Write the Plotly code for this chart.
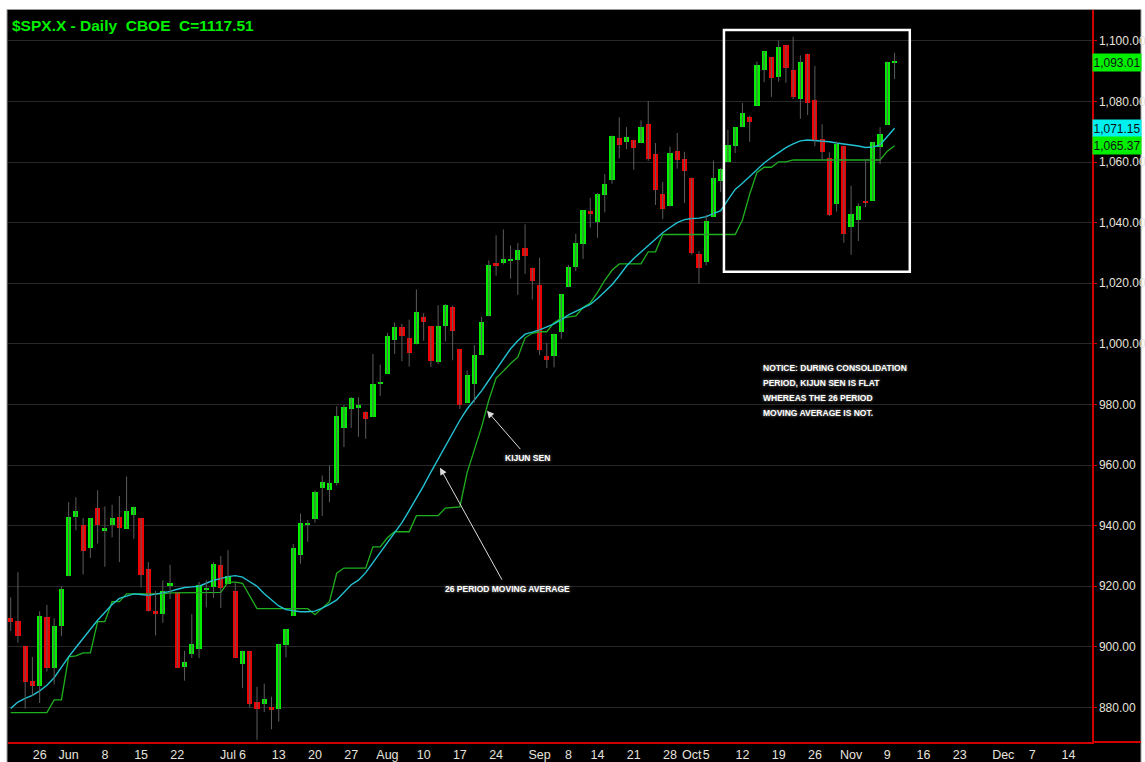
import plotly.graph_objects as go

# ---------------- data ----------------
dates = ["May19","May20","May21","May22","May26","May27","May28","May29",
         "Jun1","Jun2","Jun3","Jun4","Jun5","Jun8","Jun9","Jun10","Jun11","Jun12",
         "Jun15","Jun16","Jun17","Jun18","Jun19","Jun22","Jun23","Jun24","Jun25","Jun26",
         "Jun29","Jun30","Jul1","Jul2","Jul6","Jul7","Jul8","Jul9","Jul10",
         "Jul13","Jul14","Jul15","Jul16","Jul17","Jul20","Jul21","Jul22","Jul23","Jul24",
         "Jul27","Jul28","Jul29","Jul30","Jul31","Aug3","Aug4","Aug5","Aug6","Aug7",
         "Aug10","Aug11","Aug12","Aug13","Aug14","Aug17","Aug18","Aug19","Aug20","Aug21",
         "Aug24","Aug25","Aug26","Aug27","Aug28","Aug31","Sep1","Sep2","Sep3","Sep4",
         "Sep8","Sep9","Sep10","Sep11","Sep14","Sep15","Sep16","Sep17","Sep18",
         "Sep21","Sep22","Sep23","Sep24","Sep25","Sep28","Sep29","Sep30","Oct1","Oct2",
         "Oct5","Oct6","Oct7","Oct8","Oct9","Oct12","Oct13","Oct14","Oct15","Oct16",
         "Oct19","Oct20","Oct21","Oct22","Oct23","Oct26","Oct27","Oct28","Oct29","Oct30",
         "Nov2","Nov3","Nov4","Nov5","Nov6","Nov9","Nov10"]

opens = [909.67,908.62,900.42,888.68,887.00,909.95,892.96,907.02,
         923.26,942.87,940.30,932.49,945.67,938.12,940.35,942.73,939.04,943.44,
         942.45,925.60,911.89,910.86,919.96,918.13,893.46,897.50,899.45,918.84,
         919.86,927.15,920.82,918.30,894.27,898.60,881.90,881.28,880.03,
         879.57,900.77,910.15,930.17,940.20,942.07,952.50,951.90,954.07,972.16,
         978.63,979.00,977.66,976.01,986.80,990.22,1001.41,1005.41,1002.00,999.83,
         1008.89,1005.77,994.00,1005.86,1012.23,998.18,980.62,986.88,996.41,1009.06,
         1026.59,1026.63,1027.35,1027.81,1031.62,1025.21,1019.52,996.07,996.12,1003.84,
         1018.67,1025.36,1032.99,1043.92,1040.15,1049.03,1053.99,1067.87,1066.60,
         1067.14,1066.35,1072.69,1062.56,1049.48,1045.38,1063.69,1061.02,1054.91,1029.71,
         1026.87,1042.02,1053.65,1060.03,1065.28,1071.63,1074.96,1078.68,1090.36,1094.67,
         1088.22,1098.64,1090.36,1080.96,1095.62,1080.36,1067.54,1061.51,1046.10,1065.41,
         1038.70,1040.92,1047.30,1047.30,1064.95,1072.31,1092.77]

highs = [916.39,924.60,900.42,896.65,911.76,913.84,909.45,920.02,
         947.77,949.38,942.51,942.47,951.69,946.33,946.92,949.77,956.23,946.30,
         942.45,928.00,918.44,921.93,927.09,918.13,898.69,910.85,921.42,922.00,
         927.99,930.01,931.92,921.24,898.72,898.60,886.80,887.86,883.57,
         901.05,905.84,933.95,943.96,941.89,951.62,956.53,959.83,979.42,979.79,
         982.49,982.35,977.76,996.68,993.18,1003.61,1007.12,1006.64,1008.00,1018.00,
         1010.12,1005.77,1012.78,1013.14,1012.60,998.18,991.20,999.61,1008.92,1027.59,
         1035.82,1037.75,1032.47,1033.33,1039.47,1025.21,1028.45,1000.34,1003.43,1016.48,
         1026.07,1036.34,1044.14,1048.18,1049.74,1056.04,1068.76,1074.77,1071.52,
         1067.28,1073.81,1080.15,1066.29,1053.47,1065.13,1069.62,1063.40,1054.91,1030.60,
         1042.58,1060.55,1058.02,1070.67,1071.51,1079.46,1075.30,1093.17,1096.56,1094.67,
         1100.17,1098.64,1101.36,1095.21,1095.83,1091.75,1072.48,1063.26,1066.83,1065.41,
         1052.18,1046.36,1061.00,1066.65,1071.48,1093.19,1096.09]

lows = [905.22,901.37,879.61,883.75,881.46,891.87,887.60,903.56,
        923.26,938.46,923.85,929.32,934.13,926.44,936.15,927.97,939.04,935.66,
        919.65,911.60,903.78,907.94,915.80,893.04,888.86,896.31,896.27,913.03,
        916.18,912.86,920.82,896.42,886.36,879.93,869.32,878.45,872.81,
        875.32,896.50,910.15,927.45,934.65,940.99,943.22,947.75,953.27,965.95,
        972.29,969.35,968.65,976.01,982.85,990.22,996.68,994.31,992.49,999.83,
        1000.99,992.40,993.36,1000.82,994.60,978.51,980.62,980.62,996.39,1009.06,
        1022.48,1026.21,1021.57,1016.20,1023.13,1014.62,996.28,991.97,992.25,1001.65,
        1018.67,1023.97,1028.04,1038.40,1035.00,1043.42,1052.87,1061.20,1064.27,
        1057.46,1066.35,1060.39,1045.85,1041.17,1045.38,1057.83,1046.47,1029.45,1019.95,
        1025.92,1042.02,1050.10,1060.03,1063.00,1071.63,1066.71,1078.68,1086.41,1081.53,
        1086.48,1086.16,1080.77,1074.31,1075.49,1065.23,1060.62,1042.19,1043.69,1033.38,
        1029.38,1033.94,1045.15,1047.30,1059.32,1072.31,1087.40]

closes = [908.13,903.47,888.33,887.00,910.33,893.06,906.83,919.14,
          942.87,944.74,931.76,942.46,940.09,939.14,942.43,939.15,944.89,946.21,
          923.72,911.97,910.71,918.37,921.23,893.04,895.10,900.94,920.26,918.90,
          927.23,919.32,923.33,896.42,898.72,881.03,879.56,882.68,879.13,
          901.05,905.84,932.68,940.74,940.50,951.13,954.58,954.07,976.29,979.26,
          982.18,979.62,975.15,986.75,987.48,1002.63,1005.65,1002.72,997.08,1010.48,
          1007.10,994.35,1005.81,1012.73,1004.09,979.73,989.67,996.46,1007.37,1026.13,
          1025.57,1028.00,1028.12,1030.98,1028.93,1020.62,998.04,994.75,1003.24,1016.40,
          1025.39,1033.37,1044.14,1042.73,1049.34,1052.63,1068.76,1065.49,1068.30,
          1064.66,1071.66,1060.87,1050.78,1044.38,1062.98,1060.61,1057.08,1029.85,1025.21,
          1040.46,1054.72,1057.58,1065.48,1071.49,1076.19,1073.19,1092.02,1096.56,1087.68,
          1097.91,1091.06,1081.40,1092.91,1079.60,1066.95,1063.41,1042.63,1066.11,1036.19,
          1042.88,1045.41,1046.50,1066.63,1069.30,1093.08,1093.01]

ma26 = [879.7,881.8,883.0,884.0,885.5,887.3,889.8,893.3,896.7,899.8,
        903.0,905.8,908.8,911.5,914.0,916.0,916.8,917.5,917.3,917.0,
        917.4,917.8,918.3,919.0,919.6,919.8,920.0,921.0,922.0,922.5,
        923.2,923.5,923.0,921.5,920.0,917.5,915.5,913.5,912.3,911.9,
        911.6,911.6,911.8,912.8,914.0,915.5,918.0,920.5,922.0,924.5,
        927.8,931.0,934.3,937.5,941.0,945.0,949.0,953.2,957.7,962.0,
        966.5,970.5,974.8,978.5,981.5,984.5,988.0,991.5,995.2,998.4,
        1001.0,1003.2,1003.9,1004.6,1005.6,1006.6,1008.0,1009.6,1010.7,1011.9,
        1013.0,1015.0,1017.2,1019.5,1022.5,1025.7,1028.2,1030.4,1032.6,1034.8,
        1036.7,1038.4,1040.0,1041.0,1041.4,1041.5,1042.0,1043.0,1044.0,1047.5,
        1051.0,1053.0,1055.3,1057.5,1059.7,1061.5,1063.2,1064.8,1066.0,1067.0,
        1067.3,1067.1,1067.0,1066.7,1066.3,1066.0,1065.8,1065.3,1064.8,1065.0,
        1065.7,1068.5,1071.15]

kijun = [878.3,878.3,878.3,878.3,878.3,878.3,882.5,882.5,896.7,897.0,
         898.0,898.0,908.3,908.3,914.9,914.9,917.5,917.5,917.5,917.5,
         917.5,917.5,917.8,917.8,917.8,917.8,917.8,917.8,918.0,918.0,
         921.4,921.4,921.0,917.0,912.6,912.6,912.6,912.6,912.6,912.6,
         912.6,912.6,910.6,912.6,914.9,924.3,926.0,926.0,926.0,926.0,
         933.0,933.0,936.0,938.0,938.0,938.0,943.3,943.3,943.3,943.3,
         945.8,946.0,946.2,957.5,965.0,972.6,981.5,988.7,991.0,993.5,
         995.6,1002.0,1003.5,1004.0,1004.0,1007.0,1008.5,1008.8,1009.2,1012.0,
         1013.5,1017.0,1021.0,1024.3,1026.4,1026.4,1026.4,1026.4,1030.4,1030.4,
         1036.1,1036.1,1036.1,1036.1,1036.1,1036.1,1036.1,1036.1,1036.1,1036.1,
         1036.1,1040.9,1049.4,1056.6,1058.3,1058.3,1060.1,1060.1,1060.7,1060.7,
         1060.7,1060.7,1060.7,1060.7,1060.7,1060.7,1060.7,1060.7,1060.7,1060.7,
         1060.7,1063.6,1065.37]

# date-axis labels (trading-day index positions, incl. projected future days)
label_pos  = [4, 8, 13, 18, 23, 30, 32, 37, 42, 47, 52, 57, 62, 67, 73, 77,
              81, 86, 91, 94, 96, 101, 106, 111, 116, 121, 126, 131, 137, 141, 146]
label_text = ["26", "Jun", "8", "15", "22", "Jul", "6", "13", "20", "27", "Aug", "10",
              "17", "24", "Sep", "8", "14", "21", "28", "Oct", "5", "12", "19", "26",
              "Nov", "9", "16", "23", "Dec", "7", "14"]
week_pos  = [4, 8, 13, 18, 23, 28, 32, 37, 42, 47, 52, 57, 62, 67, 72, 77, 81, 86,
             91, 96, 101, 106, 111, 116, 121, 126, 131, 136, 141, 146]
month_pos = [8, 30, 52, 73, 94, 116, 137]

notice_lines = ["NOTICE: DURING CONSOLIDATION", "PERIOD, KIJUN SEN IS FLAT",
                "WHEREAS THE 26 PERIOD", "MOVING AVERAGE IS NOT."]

# ---------------- build figure ----------------
idx = list(range(len(dates)))
wick_x, wick_y = [], []
for i in idx:
    wick_x += [i, i, None]
    wick_y += [lows[i], highs[i], None]
body_base = [min(o, c) for o, c in zip(opens, closes)]
body_len = [max(abs(c - o), 0.7) for o, c in zip(opens, closes)]
body_col = ["#00f000" if c >= o else "#f00000" for o, c in zip(opens, closes)]

FONT = "Liberation Sans, Arial, Helvetica, sans-serif"
RED = "#d00000"

fig = go.Figure()
fig.add_trace(go.Scatter(x=idx, y=kijun, mode="lines", line=dict(color="#1fb01f", width=1.3),
                         hoverinfo="skip", name="Kijun Sen"))
fig.add_trace(go.Scatter(x=idx, y=ma26, mode="lines", line=dict(color="#22c2d2", width=1.4),
                         hoverinfo="skip", name="26 MA"))
fig.add_trace(go.Scatter(x=wick_x, y=wick_y, mode="lines", line=dict(color="#5c5c5c", width=1),
                         hoverinfo="skip", name="range"))
fig.add_trace(go.Bar(x=idx, y=body_len, base=body_base, width=0.72,
                     marker=dict(color=body_col, line=dict(width=0)), name="body"))

X0, X1 = -0.37, 149.25
Y0, Y1 = 868.6, 1110.2

fig.update_layout(
    width=1145, height=762, autosize=False,
    margin=dict(l=8, r=53, t=10, b=20, pad=0),
    paper_bgcolor="white", plot_bgcolor="black",
    showlegend=False, bargap=0, hovermode=False,
    xaxis=dict(range=[X0, X1], tickmode="array", tickvals=label_pos, ticktext=label_text,
               tickangle=0, ticks="", automargin=False,
               showgrid=False, zeroline=False, showline=True, linecolor=RED, linewidth=2,
               tickfont=dict(family=FONT, size=12.5, color="#e6e2dc")),
    xaxis2=dict(range=[X0, X1], overlaying="x", anchor="y", side="bottom", automargin=False,
                tickmode="array", tickvals=week_pos, ticks="outside", ticklen=5,
                tickcolor=RED, tickwidth=1, showticklabels=False,
                showgrid=True, gridcolor="#282828", gridwidth=1, zeroline=False, showline=False),
    xaxis3=dict(range=[X0, X1], overlaying="x", anchor="y", side="bottom", automargin=False,
                tickmode="array", tickvals=month_pos, ticks="outside", ticklen=10,
                tickcolor=RED, tickwidth=1.5, showticklabels=False,
                showgrid=False, zeroline=False, showline=False),
    yaxis=dict(range=[Y0, Y1], side="right", tick0=0, dtick=20, tickformat=",.2f",
               automargin=False,
               ticks="outside", ticklen=3, tickcolor=RED, showgrid=True,
               gridcolor="#282828", zeroline=False, showline=True, linecolor=RED,
               linewidth=1.5, tickfont=dict(family=FONT, size=12, color="#e6e2dc")),
)

# black chart panel with thin grey frame (extends under the axis labels)
fig.add_shape(type="rect", xref="paper", yref="paper", x0=-0.0009, x1=1.0452, y0=-0.05, y1=1.0007,
              fillcolor="black", line=dict(color="#9a9a9a", width=1), layer="below")
# bottom red axis line continues under the price scale
fig.add_shape(type="line", xref="paper", yref="paper", x0=1.0, x1=1.0452, y0=0, y1=0,
              line=dict(color=RED, width=2))
# white consolidation box
fig.add_shape(type="rect", xref="x", yref="y", x0=98.45, x1=124.1, y0=1023.8, y1=1103.6,
              line=dict(color="white", width=2.5), fillcolor="rgba(0,0,0,0)")

# title
fig.add_annotation(xref="paper", yref="paper", x=0.0018, y=0.9795, xanchor="left", yanchor="middle",
                   text="$SPX.X - Daily\u00a0\u00a0CBOE\u00a0\u00a0C=1117.51", showarrow=False,
                   font=dict(family=FONT, size=15.5, color="#00f000", weight="bold"))

glow = "0px 0px 3px rgba(255,255,255,0.6)"
note_font = dict(family=FONT, size=8.5, color="white", weight="bold", shadow=glow)
# arrows + labels
fig.add_annotation(x=65.74, y=977.9, xref="x", yref="y", text="KIJUN SEN", showarrow=True,
                   ax=41, ay=47, arrowhead=2, arrowsize=1.4, arrowwidth=1, arrowcolor="#dddddd",
                   standoff=0, startstandoff=3, font=note_font)
fig.add_annotation(x=59.26, y=959.1, xref="x", yref="y", text="26 PERIOD MOVING AVERAGE", showarrow=True,
                   ax=67, ay=121, arrowhead=2, arrowsize=1.4, arrowwidth=1, arrowcolor="#dddddd",
                   standoff=0, startstandoff=3, font=note_font)
# consolidation note, one annotation per line (15 px line pitch as in the original)
for k, line in enumerate(notice_lines):
    fig.add_annotation(x=103.56, y=992.1 - k * 4.95, xref="x", yref="y", xanchor="left",
                       yanchor="middle", align="left", text=line, showarrow=False, font=note_font)

# last-value boxes on the price scale
for val, col in [(closes[-1], "#00f000"), (ma26[-1], "#00f0f0"), (kijun[-1], "#00f000")]:
    fig.add_annotation(xref="paper", yref="y", x=1.0, y=val, xanchor="left", yanchor="middle",
                       text=f"{val:,.2f}", showarrow=False, bgcolor=col, width=48, height=17,
                       borderpad=0, align="center",
                       font=dict(family=FONT, size=12, color="#111111"))

fig.write_html("out.html", config={"displayModeBar": False, "staticPlot": True},
               post_script="document.body.style.margin='0';document.body.style.overflow='hidden';")
